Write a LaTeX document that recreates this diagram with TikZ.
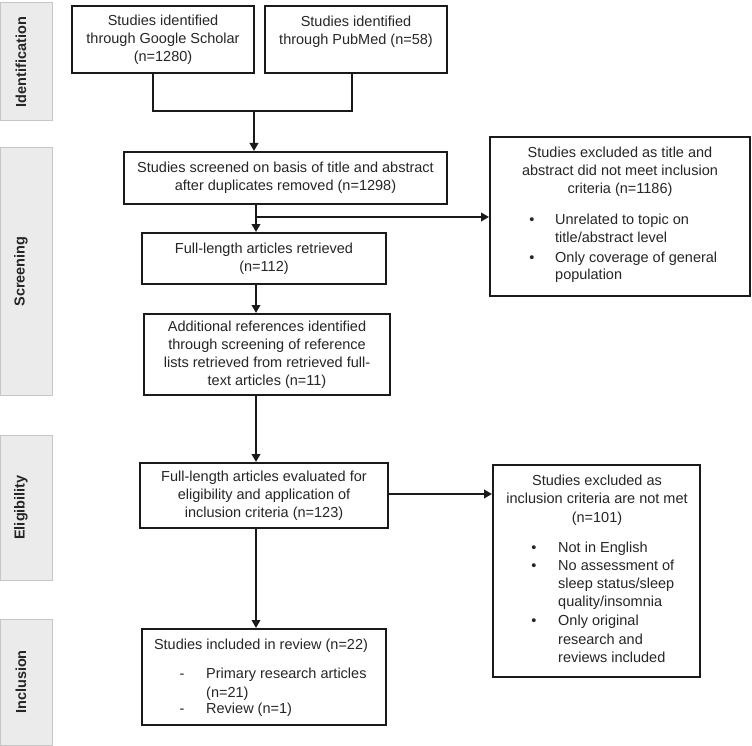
\documentclass[tikz,border=0pt]{standalone}
\usepackage{fontspec}
\setmainfont{Liberation Sans}
\usetikzlibrary{arrows.meta}
\definecolor{ink}{HTML}{1A1A1A}
\definecolor{txtc}{HTML}{262626}
\definecolor{sidefill}{HTML}{EBEBEB}
\definecolor{sideline}{HTML}{C6C6C6}
\newcommand{\fsz}{\fontsize{14.5}{18}\selectfont}
\begin{document}
\begin{tikzpicture}[x=1pt,y=-1pt,
  box/.style={draw=ink, line width=2pt, fill=white, align=center, font=\fsz, text=txtc, inner sep=0pt},
  sidebox/.style={draw=sideline, fill=sidefill, line width=1pt, inner sep=0pt},
  sidetext/.style={rotate=90, font=\fsz\bfseries, text=txtc, inner sep=0pt},
  conn/.style={draw=ink, line width=2.8pt},
  arr/.style={conn, -{Triangle[length=8pt,width=8.5pt]}},
  ln/.style={anchor=base west, font=\fsz, text=txtc, inner sep=0pt},
  lc/.style={anchor=base, font=\fsz, text=txtc, inner sep=0pt}
]
\useasboundingbox (0,0) rectangle (752,746);

% phase labels
\node[sidebox, minimum width=52pt, minimum height=118pt] (pI) at (26,62) {};
\node[sidetext] (tI) at (21,62) {Identification};
\node[sidebox, minimum width=52pt, minimum height=247pt] (pS) at (26,271.5) {};
\node[sidetext] (tS) at (21,271.5) {Screening};
\node[sidebox, minimum width=52pt, minimum height=145pt] (pE) at (26,507.5) {};
\node[sidetext] (tE) at (21,507.5) {Eligibility};
\node[sidebox, minimum width=52pt, minimum height=126pt] (pN) at (26,682) {};
\node[sidetext] (tN) at (21,682) {Inclusion};

% main boxes
\node[box, minimum width=182pt, minimum height=67pt] (gs) at (163,39.5)
  {Studies identified\\through Google Scholar\\(n=1280)};
\node[box, minimum width=182pt, minimum height=67pt] (pm) at (356,39.5)
  {Studies identified\\through PubMed (n=58)\\\mbox{}};
\node[box, minimum width=323pt, minimum height=52pt] (sc) at (285.5,178)
  {Studies screened on basis of title and abstract\\after duplicates removed (n=1298)};
\node[box, minimum width=244pt, minimum height=51pt] (fr) at (264,258.5)
  {Full-length articles retrieved\\(n=112)};
\node[box, minimum width=246pt, minimum height=81pt] (ar) at (267,354.5)
  {Additional references identified\\through screening of reference\\lists retrieved from retrieved full-\\text articles (n=11)};
\node[box, minimum width=248pt, minimum height=65pt] (ev) at (264,495.5)
  {Full-length articles evaluated for\\eligibility and application of\\inclusion criteria (n=123)};
\node[box, minimum width=244pt, minimum height=96pt] (inc) at (264,677) {};
\node[box, minimum width=260pt, minimum height=159pt] (ex1) at (620,216.5) {};
\node[box, minimum width=207pt, minimum height=212pt] (ex2) at (596.5,571) {};

% inclusion box text
\node[lc] (inc1) at (261,649) {Studies included in review (n=22)};
\node[lc] (incd1) at (182,678) {-};
\node[ln] (inc2) at (206,678) {Primary research articles};
\node[ln] (inc3) at (206,697) {(n=21)};
\node[lc] (incd2) at (182,713) {-};
\node[ln] (inc4) at (206,713) {Review (n=1)};

% excluded box 1 text
\node[lc] (e1a) at (620,158) {Studies excluded as title and};
\node[lc] (e1b) at (620,176) {abstract did not meet inclusion};
\node[lc] (e1c) at (620,194) {criteria (n=1186)};
\node[lc] (e1d1) at (532,224) {\textbullet};
\node[ln] (e1d) at (555,224) {Unrelated to topic on};
\node[ln] (e1e) at (555,242) {title/abstract level};
\node[lc] (e1d2) at (532,262) {\textbullet};
\node[ln] (e1f) at (555,262) {Only coverage of general};
\node[ln] (e1g) at (555,279) {population};

% excluded box 2 text
\node[lc] (e2a) at (597,485) {Studies excluded as};
\node[lc] (e2b) at (597,503) {inclusion criteria are not met};
\node[lc] (e2c) at (597,522) {(n=101)};
\node[lc] (e2d1) at (534,552) {\textbullet};
\node[ln] (e2d) at (558,552) {Not in English};
\node[lc] (e2d2) at (534,570) {\textbullet};
\node[ln] (e2e) at (558,570) {No assessment of};
\node[ln] (e2f) at (558,588) {sleep status/sleep};
\node[ln] (e2g) at (558,606) {quality/insomnia};
\node[lc] (e2d3) at (534,625) {\textbullet};
\node[ln] (e2h) at (558,625) {Only original};
\node[ln] (e2i) at (558,644) {research and};
\node[ln] (e2j) at (558,662) {reviews included};

% connectors
\coordinate (jl) at (153,111);
\coordinate (jr) at (352,111);
\coordinate (jm) at (254,111);
\coordinate (vx) at (256,217);
\coordinate (e2) at (388,494);
\draw[conn] (gs.south -| jl) -- (jl) -- (jr) -- (pm.south -| jr);
\draw[arr] (jm) -- (sc.north -| jm);
\draw[arr] (sc.south -| vx) -- (fr.north -| vx);
\draw[arr] (vx) -- (ex1.west |- vx);
\draw[arr] (fr.south -| vx) -- (ar.north -| vx);
\draw[arr] (ar.south -| vx) -- (ev.north -| vx);
\draw[arr] (ev.south -| vx) -- (inc.north -| vx);
\draw[arr] (e2) -- (ex2.west |- e2);
\end{tikzpicture}
\end{document}
